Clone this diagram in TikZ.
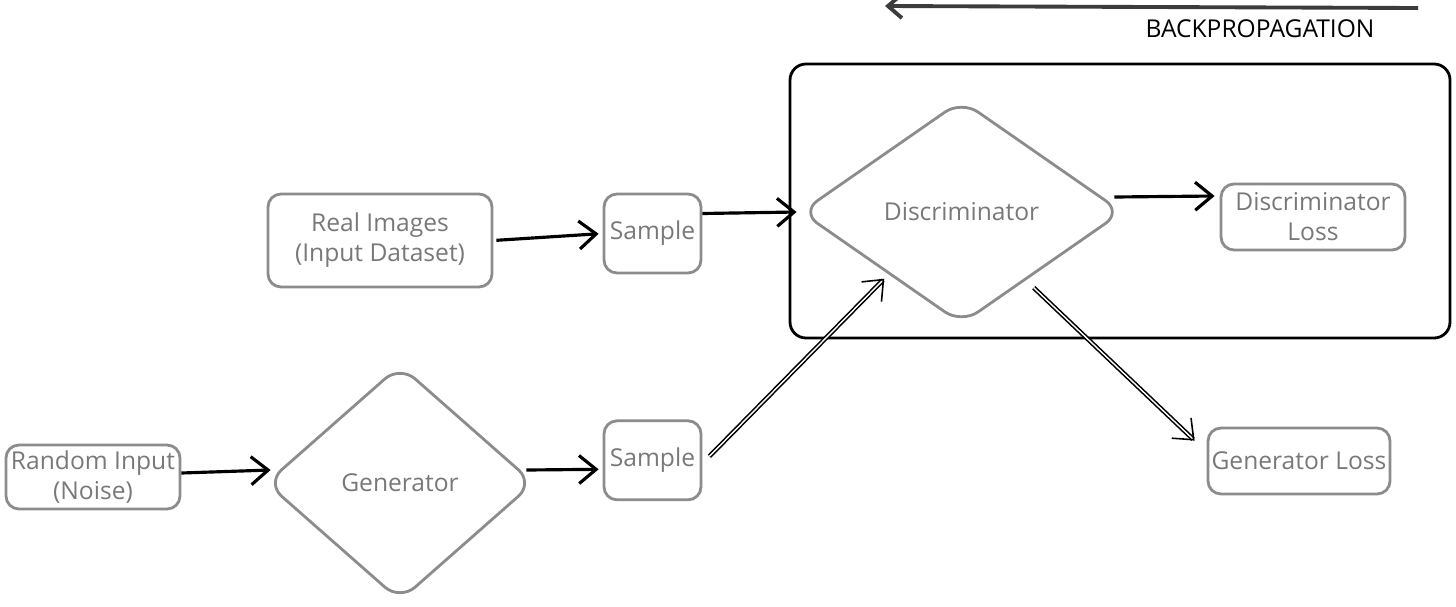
\documentclass[tikz,border=0pt]{standalone}
\usepackage{fontspec}
\setmainfont{Open Sans}
\usepackage{tikz}
\usetikzlibrary{shapes.geometric, arrows.meta, positioning, calc}
\definecolor{boxgray}{RGB}{140,140,140}
\definecolor{textgray}{RGB}{120,120,120}
\definecolor{darkline}{RGB}{60,60,60}

\begin{document}
\begin{tikzpicture}[
    block/.style={rectangle, draw=boxgray, line width=0.8pt, rounded corners=1.3mm, inner sep=0pt, align=center, text=textgray, font=\fontsize{7}{8.5}\selectfont},
    model/.style={diamond, draw=boxgray, line width=0.8pt, rounded corners=2mm, inner sep=0pt, text=textgray, font=\fontsize{7}{8.5}\selectfont},
    group/.style={rectangle, draw=black, line width=0.8pt, rounded corners=1.6mm},
    arr/.style={-{Straight Barb[length=1.7mm, width=2.8mm]}, line width=0.9pt},
    darr/.style={-{Straight Barb[length=1.7mm, width=2.8mm]}, double, line width=0.45pt, double distance=0.4pt},
    node distance=1.8cm,
]
\useasboundingbox (0,0) rectangle (14.56,-6.06);

% upper row
\node[block, minimum width=2.24cm, minimum height=0.93cm] (real) at (3.80,-2.405) {Real Images\\(Input Dataset)};
\node[block, minimum width=0.97cm, minimum height=0.79cm] (sample1) at (6.525,-2.335) {Sample};
\node[model, minimum width=3.22cm, minimum height=2.24cm] (disc) at (9.615,-2.12) {Discriminator};
\node[block, minimum width=1.84cm, minimum height=0.66cm] (dloss) at (13.13,-2.17) {Discriminator\\Loss};
\node[group, minimum width=6.60cm, minimum height=2.74cm] (dgroup) at (11.20,-2.01) {};

% lower row
\node[block, minimum width=1.74cm, minimum height=0.64cm] (rand) at (0.93,-4.77) {Random Input\\(Noise)};
\node[model, minimum width=2.68cm, minimum height=2.36cm] (gen) at (4.00,-4.83) {Generator};
\node[block, minimum width=0.97cm, minimum height=0.79cm, below=1.45cm of sample1] (sample2) {Sample};
\node[block, minimum width=1.82cm, minimum height=0.66cm] (gloss) at (12.99,-4.61) {Generator Loss};

% backpropagation
\coordinate (bpstart) at (14.18,-0.08);
\coordinate (bpend) at (8.85,-0.06);
\node[font=\fontsize{7}{8.5}\selectfont] (bplabel) at (12.60,-0.29) {BACKPROPAGATION};
\draw[-{Straight Barb[length=1.4mm, width=2.4mm]}, line width=1.1pt, darkline] (bpstart) -- (bpend);

\draw[arr, shorten <=0.3mm, shorten >=0.4mm] (real.east) -- (sample1.west);
\draw[arr] ([yshift=2mm]sample1.east) -- ([xshift=-0.25mm]disc.west);
\draw[arr] ([shift={(-0.95mm,1.5mm)}]disc.east) -- ([shift={(-0.5mm,2.1mm)}]dloss.west);
\draw[arr] ([yshift=0.4mm]rand.east) -- ([shift={(0.6mm,1.3mm)}]gen.west);
\draw[arr] ([shift={(-0.9mm,1.3mm)}]gen.east) -- ([shift={(-0.4mm,-0.9mm)}]sample2.west);
\draw[darr] ([shift={(0.7mm,0.4mm)}]sample2.east) -- ([shift={(0.4mm,-1mm)}]disc.south west);
\draw[darr] ([shift={(-0.9mm,-1.9mm)}]disc.south east) -- ([shift={(-1.2mm,-1.4mm)}]gloss.north west);
\end{tikzpicture}
\end{document}
